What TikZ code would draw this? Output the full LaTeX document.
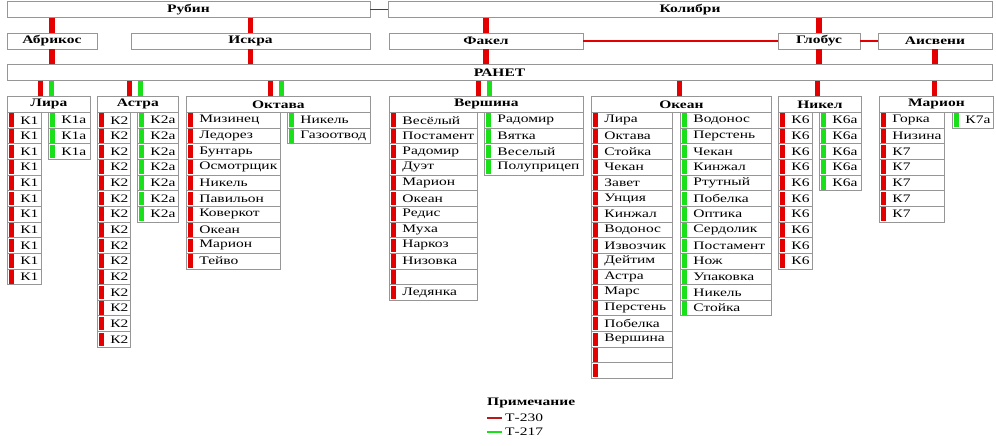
\documentclass[tikz,border=0pt]{standalone}
\usepackage{fontspec}
\setmainfont{Liberation Serif}
\usepackage{graphicx}
\usepackage{xcolor}
\usetikzlibrary{positioning}

\definecolor{lred}{RGB}{228,0,0}
\definecolor{lgreen}{RGB}{25,225,25}
\definecolor{notered}{RGB}{185,25,25}
\definecolor{edge}{RGB}{150,150,150}
\newcommand{\widetxt}[1]{\scalebox{1.35}[1]{#1}}

\begin{document}
\begin{tikzpicture}[
  x=0.03cm, y=-0.03cm,
  every node/.style={font=\fontsize{9.8}{11}\selectfont},
  box/.style={draw=edge, line width=0.7pt, inner sep=0pt, minimum width=#1, minimum height=0.46cm, font=\fontsize{9.8}{11}\selectfont\bfseries},
  head/.style={box=#1, anchor=north west, minimum height=0.48cm},
  row/.style={draw=edge, line width=0.7pt, inner sep=0pt, anchor=north west, text width=#1, minimum height=0.4695cm, align=left, execute at begin node={\hspace*{0.39cm}}},
  redrow/.style={row=#1, path picture={\fill[lred] ([xshift=1.6pt,yshift=-0.9pt]path picture bounding box.north west) rectangle ([xshift=5.4pt,yshift=0.9pt]path picture bounding box.south west);}},
  greenrow/.style={row=#1, path picture={\fill[lgreen] ([xshift=1.6pt,yshift=-0.9pt]path picture bounding box.north west) rectangle ([xshift=5.4pt,yshift=0.9pt]path picture bounding box.south west);}},
  rlink/.style={lred, line width=4.3pt},
  glink/.style={lgreen, line width=4.3pt},
  hlink/.style={lred, line width=1.7pt}
]
\useasboundingbox (0,0) rectangle (996,446);

\node[box=10.89cm] (rubin) at (188.5,9.5) {\widetxt{Рубин}};
\node[box=18.12cm] (kolibri) at (690,9.5) {\widetxt{Колибри}};
\node[box=2.7cm, minimum height=0.48cm] (abrikos) at (52,41) {\widetxt{Абрикос}};
\node[box=7.17cm, minimum height=0.48cm] (iskra) at (250.5,41) {\widetxt{Искра}};
\node[box=5.82cm, minimum height=0.48cm] (fakel) at (486,41) {\widetxt{Факел}};
\node[box=2.46cm, minimum height=0.48cm] (globus) at (819,41) {\widetxt{Глобус}};
\node[box=3.42cm, minimum height=0.48cm] (aisveni) at (935,41) {\widetxt{Аисвени}};
\node[box=29.55cm] (ranet) at (499.5,72.5) {\widetxt{РАНЕТ}};

\node[head=2.49cm] (lira) at (7,96) {\widetxt{Лира}};
\node[head=2.43cm] (astra) at (97,96) {\widetxt{Астра}};
\node[head=5.52cm] (oktava) at (186,96) {\widetxt{Октава}};
\node[head=5.82cm] (vershina) at (389,96) {\widetxt{Вершина}};
\node[head=5.4cm] (okean) at (591,96) {\widetxt{Океан}};
\node[head=2.49cm] (nikel) at (778,96) {\widetxt{Никел}};
\node[head=3.42cm] (marion) at (879,96) {\widetxt{Марион}};

\foreach \i in {1,...,11}
  \node[redrow=1.02cm] (lira-l\i) at (7,{112+(\i-1)*15.65}) {\widetxt{К1}};
\foreach \i in {1,...,3}
  \node[greenrow=1.26cm] (lira-r\i) at (48,{112+(\i-1)*15.65}) {\widetxt{К1а}};
\foreach \i in {1,...,15}
  \node[redrow=0.99cm] (astra-l\i) at (97,{112+(\i-1)*15.65}) {\widetxt{К2}};
\foreach \i in {1,...,7}
  \node[greenrow=1.23cm] (astra-r\i) at (137,{112+(\i-1)*15.65}) {\widetxt{К2а}};
\foreach \t [count=\i] in {Мизинец,Ледорез,Бунтарь,Осмотрщик,Никель,Павильон,Коверкот,Океан,Марион,Тейво}
  \node[redrow=2.82cm] (oktava-l\i) at (186,{112+(\i-1)*15.65}) {\widetxt{\t}};
\foreach \t [count=\i] in {Никель,Газоотвод}
  \node[greenrow=2.49cm] (oktava-r\i) at (287,{112+(\i-1)*15.65}) {\widetxt{\t}};
\foreach \t [count=\i] in {Весёлый,Постамент,Радомир,Дуэт,Марион,Океан,Редис,Муха,Наркоз,Низовка,{},Ледянка}
  \node[redrow=2.64cm] (vershina-l\i) at (389,{112+(\i-1)*15.65}) {\widetxt{\t}};
\foreach \t [count=\i] in {Радомир,Вятка,Веселый,Полуприцеп}
  \node[greenrow=2.97cm] (vershina-r\i) at (484,{112+(\i-1)*15.65}) {\widetxt{\t}};
\foreach \t [count=\i] in {Лира,Октава,Стойка,Чекан,Завет,Унция,Кинжал,Водонос,Извозчик,Дейтим,Астра,Марс,Перстень,Побелка,Вершина,{},{}}
  \node[redrow=2.43cm] (okean-l\i) at (591,{112+(\i-1)*15.65}) {\widetxt{\t}};
\foreach \t [count=\i] in {Водонос,Перстень,Чекан,Кинжал,Ртутный,Побелка,Оптика,Сердолик,Постамент,Нож,Упаковка,Никель,Стойка}
  \node[greenrow=2.73cm] (okean-r\i) at (680,{112+(\i-1)*15.65}) {\widetxt{\t}};
\foreach \i in {1,...,10}
  \node[redrow=1.02cm] (nikel-l\i) at (778,{112+(\i-1)*15.65}) {\widetxt{К6}};
\foreach \i in {1,...,5}
  \node[greenrow=1.26cm] (nikel-r\i) at (819,{112+(\i-1)*15.65}) {\widetxt{К6а}};
\foreach \t [count=\i] in {Горка,Низина,К7,К7,К7,К7,К7}
  \node[redrow=1.95cm] (marion-l\i) at (879,{112+(\i-1)*15.65}) {\widetxt{\t}};
\node[greenrow=1.23cm] (marion-r1) at (952,112) {\widetxt{К7а}};

\node[anchor=west, inner sep=0pt, font=\fontsize{9.8}{11}\selectfont\bfseries] (note) at (487,403) {\widetxt{Примечание}};
\node[anchor=west, inner sep=0pt] (t230) at (505,418) {\widetxt{Т-230}};
\node[anchor=west, inner sep=0pt] (t217) at (505,432) {\widetxt{Т-217}};

\draw[hlink] (rubin) -- (kolibri);
\draw[hlink] (fakel) -- (globus);
\draw[hlink] (globus) -- (aisveni);
\draw[rlink] (rubin.south -| abrikos.north) -- (abrikos.north);
\draw[rlink] (rubin.south -| iskra.north) -- (iskra.north);
\draw[rlink] (kolibri.south -| fakel.north) -- (fakel.north);
\draw[rlink] (kolibri.south -| globus.north) -- (globus.north);
\draw[rlink] (abrikos.south) -- (abrikos.south |- ranet.north);
\draw[rlink] (iskra.south) -- (iskra.south |- ranet.north);
\draw[rlink] (fakel.south) -- (fakel.south |- ranet.north);
\draw[rlink] (globus.south) -- (globus.south |- ranet.north);
\draw[rlink] (aisveni.south) -- (aisveni.south |- ranet.north);
\foreach \g in {lira,astra,oktava,vershina} {
  \draw[rlink] ([shift={(-8,0)}]\g.north |- ranet.south) -- ([shift={(-8,0)}]\g.north);
  \draw[glink] ([shift={(3,0)}]\g.north |- ranet.south) -- ([shift={(3,0)}]\g.north);
}
\foreach \g in {okean,nikel,marion}
  \draw[rlink] ([shift={(-2,0)}]\g.north |- ranet.south) -- ([shift={(-2,0)}]\g.north);
\draw[notered, line width=1.7pt] ([shift={(-18,0)}]t230.west) -- ([shift={(-3,0)}]t230.west);
\draw[lgreen, line width=1.7pt] ([shift={(-18,0)}]t217.west) -- ([shift={(-3,0)}]t217.west);
\end{tikzpicture}
\end{document}
